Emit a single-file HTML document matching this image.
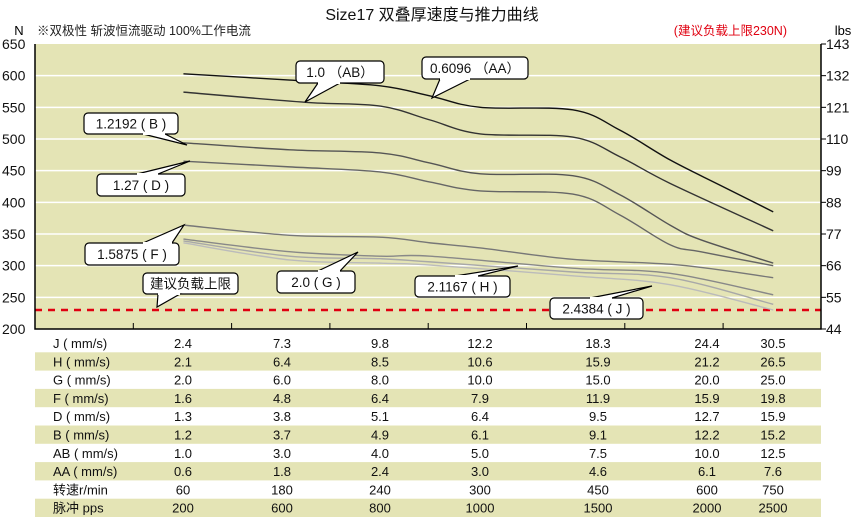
<!DOCTYPE html>
<html><head><meta charset="utf-8"><style>
body{margin:0;background:#fff}
svg{display:block;font-family:"Liberation Sans","Noto Sans CJK SC",sans-serif}
</style></head><body>
<svg id="chart" width="863" height="518" viewBox="0 0 863 518" xmlns="http://www.w3.org/2000/svg">
<text x="432" y="20" font-size="16" text-anchor="middle" fill="#111">Size17 双叠厚速度与推力曲线</text>
<text x="37" y="35" font-size="12.5" fill="#222">※双极性 斩波恒流驱动 100%工作电流</text>
<text x="787" y="35" font-size="12.5" fill="#e00010" text-anchor="end">(建议负载上限230N)</text>
<text x="19" y="35" font-size="13" text-anchor="middle">N</text>
<text x="843" y="35" font-size="13" text-anchor="middle">lbs</text>
<rect x="35" y="44" width="786" height="285" fill="#e4e4b5"/>
<g id="grid"></g><g id="table"></g><g id="curves"></g><g id="callouts"></g><g id="axes"></g>
</svg>
<script>
const yTicks=[650,600,550,500,450,400,350,300,250,200];
const lbsTicks=[143,132,121,110,99,88,77,66,55,44];
const loadLimit=230;
const seriesNames=['AA','AB','B','D','F','G','H','J'];
const seriesColors=['#111','#333','#555','#666','#777','#888','#a8a8a8','#bbb'];
const xAA=[1.51,2.59,3.51,4.02,4.53,5.47,5.95,6.46,6.97,7.51];
const yAA=[603,593,584,568,550,546,514,467,427,385];
const xAB=[1.51,2.75,3.51,4.02,4.53,5.47,5.95,6.46,7.51];
const yAB=[574,558,552,530,508,503,472,430,355];
const xB=[1.51,2.59,3.51,4.02,4.53,5.47,5.95,6.46,6.77,7.51];
const yB=[494,483,478,462,445,442,412,364,341,304];
const xD=[1.51,2.59,3.51,4.02,4.53,5.47,5.95,6.46,6.77,7.51];
const yD=[465,456,448,432,418,413,380,333,322,300];
const xF=[1.51,2.59,3.51,4.02,4.53,5.47,6.56,7.51];
const yF=[364,348,345,336,328,310,301,281];
const xG=[1.51,2.59,3.51,4.02,5.47,6.46,7.51];
const yG=[342,322,315,315,296,288,254];
const xH=[1.51,2.59,3.51,4.02,5.47,6.46,7.51];
const yH=[339,315,311,306,290,281,239];
const xJ=[1.51,2.59,3.51,4.02,5.47,6.46,7.51];
const yJ=[336,309,304,301,284,270,230];
const rowLabels=['J ( mm/s)','H ( mm/s)','G ( mm/s)','F ( mm/s)','D ( mm/s)','B ( mm/s)','AB ( mm/s)','AA ( mm/s)','转速r/min','脉冲 pps'];
const rowValues=[
['2.4','7.3','9.8','12.2','18.3','24.4','30.5'],
['2.1','6.4','8.5','10.6','15.9','21.2','26.5'],
['2.0','6.0','8.0','10.0','15.0','20.0','25.0'],
['1.6','4.8','6.4','7.9','11.9','15.9','19.8'],
['1.3','3.8','5.1','6.4','9.5','12.7','15.9'],
['1.2','3.7','4.9','6.1','9.1','12.2','15.2'],
['1.0','3.0','4.0','5.0','7.5','10.0','12.5'],
['0.6','1.8','2.4','3.0','4.6','6.1','7.6'],
['60','180','240','300','450','600','750'],
['200','600','800','1000','1500','2000','2500']];
const colCenters=[183,282,380,480,598,707,773];
const NS='http://www.w3.org/2000/svg';
const X=u=>35+u*98.3;
const Y=v=>329-(v-200)*(285/450);
function mk(tag,attrs,parent){const e=document.createElementNS(NS,tag);for(const k in attrs)e.setAttribute(k,attrs[k]);parent.appendChild(e);return e;}
const grid=document.getElementById('grid');
yTicks.forEach((t,i)=>{
 if(t>200&&t<650){const l=mk('line',{x1:35,x2:821,y1:Y(t),y2:Y(t),stroke:'#fff','stroke-width':1.5},grid);
 
 }
 const tx=mk('text',{x:2,y:Y(t)+5,'font-size':14,fill:'#111'},grid);tx.textContent=t;
 
 
 const tr=mk('text',{x:826,y:Y(t)+5,'font-size':14,fill:'#111'},grid);tr.textContent=lbsTicks[i];
 
 
 const tk=mk('line',{x1:821,x2:826,y1:Y(t),y2:Y(t),stroke:'#000'},grid);
 
 
});
const ll=mk('line',{x1:35,x2:821,y1:Y(loadLimit),y2:Y(loadLimit),stroke:'#e00010','stroke-width':2.5,'stroke-dasharray':'7,6'},grid);


const axes=document.getElementById('axes');
const ax=mk('path',{d:'M35,44 V329 H821 V44',fill:'none',stroke:'#000','stroke-width':1.5},axes);


for(let k=1;k<8;k++){const t=mk('line',{x1:X(k),x2:X(k),y1:323,y2:329,stroke:'#000'},axes);
 
 }
const tbl=document.getElementById('table');
rowLabels.forEach((lab,r)=>{
 const top=334+r*18.3;
 if(r%2===1){const b=mk('rect',{x:35,y:top,width:786,height:18.3,fill:'#e4e4b5'},tbl);
 
 }
 const t=mk('text',{x:53,y:top+14,'font-size':13,fill:'#111'},tbl);t.textContent=lab;
 
 
 rowValues[r].forEach((v,c)=>{const tv=mk('text',{x:colCenters[c],y:top+14,'font-size':13,'text-anchor':'middle',fill:'#111'},tbl);tv.textContent=v;
 
 });
});
const xs={AA:xAA,AB:xAB,B:xB,D:xD,F:xF,G:xG,H:xH,J:xJ};
const ys={AA:yAA,AB:yAB,B:yB,D:yD,F:yF,G:yG,H:yH,J:yJ};
function smooth(p){let d='M'+p[0][0]+','+p[0][1];for(let i=0;i<p.length-1;i++){const p0=p[i-1]||p[i],p1=p[i],p2=p[i+1],p3=p[i+2]||p2;
 d+=' C'+(p1[0]+(p2[0]-p0[0])/6)+','+(p1[1]+(p2[1]-p0[1])/6)+' '+(p2[0]-(p3[0]-p1[0])/6)+','+(p2[1]-(p3[1]-p1[1])/6)+' '+p2[0]+','+p2[1];}return d;}
const cg=document.getElementById('curves');
seriesNames.forEach((n,i)=>{const pts=xs[n].map((u,j)=>[X(u),Y(ys[n][j])]);
 const p=mk('path',{d:smooth(pts),fill:'none',stroke:seriesColors[i],'stroke-width':1.4},cg);
 
 });
const callouts=[
['1.0 （AB）',296,61,88,22,[318,83,305,102,340,83]],
['0.6096 （AA）',422,57,106,22,[440,79,432,98,470,79]],
['1.2192 ( B )',84,113,94,21,[143,134,187,145,165,134]],
['1.27 ( D )',97,174,88,22,[137,174,190,161,158,174]],
['1.5875 ( F )',85,243,94,22,[143,243,184,225,172,243]],
['建议负载上限',143,273,95,21,[158,294,157,307,180,294]],
['2.0 ( G )',277,271,78,22,[318,271,358,252,340,271]],
['2.1167 ( H )',415,276,95,21,[455,276,518,266,478,276]],
['2.4384 ( J )',550,298,93,21,[590,298,652,286,612,298]]];
const og=document.getElementById('callouts');
callouts.forEach(c=>{const g=mk('g',{},og);
 
 
 mk('rect',{x:c[1],y:c[2],width:c[3],height:c[4],rx:4,fill:'#fff',stroke:'#000','stroke-width':1.2},g);
 const q=c[5];
 mk('polygon',{points:q[0]+','+q[1]+' '+q[2]+','+q[3]+' '+q[4]+','+q[5],fill:'#fff',stroke:'#000','stroke-width':1.2},g);
 mk('line',{x1:q[0],y1:q[1],x2:q[4],y2:q[5],stroke:'#fff','stroke-width':2},g);
 const t=mk('text',{x:c[1]+c[3]/2,y:c[2]+c[4]/2+5,'font-size':13.5,'text-anchor':'middle',fill:'#111'},g);t.textContent=c[0];});
</script>
</body></html>
